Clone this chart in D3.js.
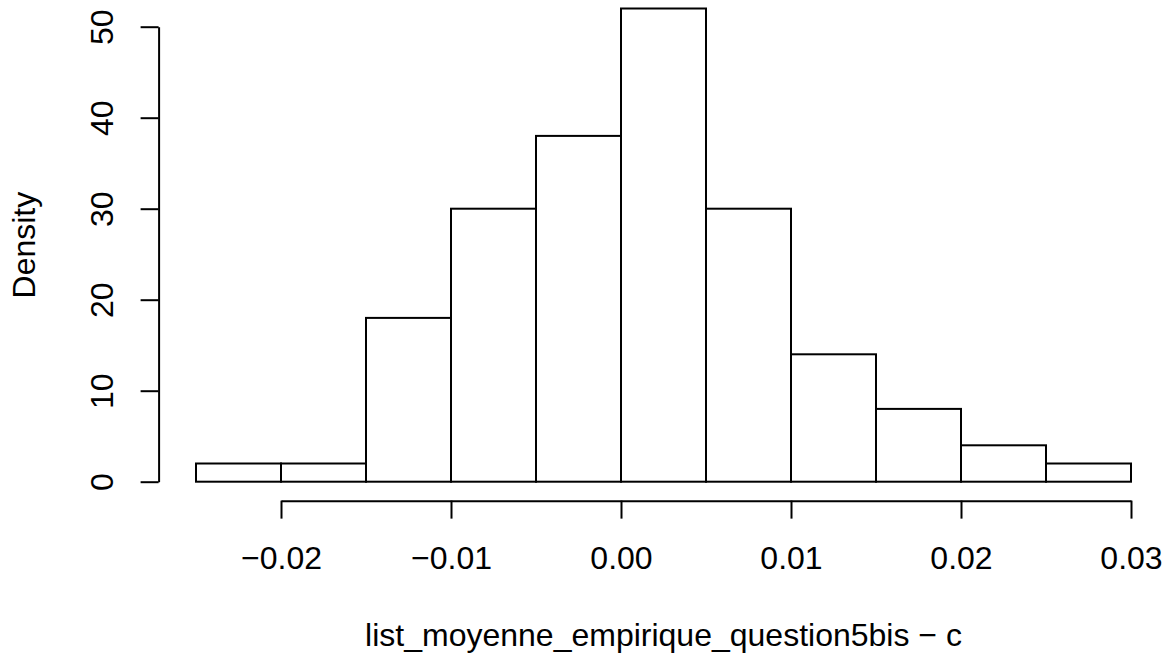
<!DOCTYPE html>
<html>
<head>
<meta charset="utf-8">
<script src="https://cdn.jsdelivr.net/npm/d3@7"></script>
<style>
	body { margin: 0; background: #fff; }
	svg { display: block; }
	text { font-family: "Liberation Sans", Arial, sans-serif; font-size: 32px; fill: #000; }
</style>
</head>
<body>
<div class="container"></div>
<script>
// histogram data: bin edges and density heights
var binStarts = [-0.025, -0.02, -0.015, -0.01, -0.005, 0.00, 0.005, 0.01, 0.015, 0.02, 0.025];
var binWidth = 0.005;
var densities = [2, 2, 18, 30, 38, 52, 30, 14, 8, 4, 2];
var xTicks = [-0.02, -0.01, 0.00, 0.01, 0.02, 0.03];
var yTicks = [0, 10, 20, 30, 40, 50];
var xLabel = 'list_moyenne_empirique_question5bis \u2212 c';
var yLabel = 'Density';

var width = 1166, height = 656;

var svg = d3.select('.container')
	.append('svg')
	.attr('width', width)
	.attr('height', height);

var xScale = d3.scaleLinear()
	.domain([-0.02, 0.03])
	.range([281, 1131]);

var yScale = d3.scaleLinear()
	.domain([0, 50])
	.range([481.7, 26.7]);

// R extends the user range by 4% on each side
var xMin = -0.025, xMax = 0.03, yMax = d3.max(densities);
var xPad = (xMax - xMin) * 0.04, yPad = yMax * 0.04;
var plotLeft = xScale(xMin - xPad), plotRight = xScale(xMax + xPad);
var plotBottom = yScale(-yPad), plotTop = yScale(yMax + yPad);

// bars
svg.append('g')
	.selectAll('rect')
	.data(binStarts)
	.enter().append('rect')
	.attr('x', d => xScale(d))
	.attr('y', (d, i) => yScale(densities[i]))
	.attr('width', d => xScale(d + binWidth) - xScale(d))
	.attr('height', (d, i) => yScale(0) - yScale(densities[i]))
	.attr('fill', 'none')
	.attr('stroke', '#000')
	.attr('stroke-width', 2);

// x axis
var xAxis = d3.axisBottom(xScale)
	.tickValues(xTicks)
	.tickFormat(d3.format('.2f'))
	.tickSize(18)
	.tickSizeOuter(0);

var gx = svg.append('g')
	.attr('transform', 'translate(0,' + plotBottom + ')')
	.call(xAxis);
gx.select('.domain').attr('stroke-width', 2);
gx.selectAll('.tick line').attr('stroke-width', 2);
gx.selectAll('.tick text')
	.attr('y', 68)
	.attr('dy', 0)
	.style('font-size', '32px')
	.style('font-family', '"Liberation Sans", Arial, sans-serif');

// y axis
var yAxis = d3.axisLeft(yScale)
	.tickValues(yTicks)
	.tickFormat(d3.format('d'))
	.tickSize(18)
	.tickSizeOuter(0);

var gy = svg.append('g')
	.attr('transform', 'translate(' + plotLeft + ',0)')
	.call(yAxis);
gy.select('.domain').attr('stroke-width', 2);
gy.selectAll('.tick line').attr('stroke-width', 2);
gy.selectAll('.tick text')
	.attr('x', 0)
	.attr('y', 0)
	.attr('dy', 0)
	.attr('text-anchor', 'middle')
	.attr('transform', 'translate(-45.5,0) rotate(-90)')
	.style('font-size', '32px')
	.style('font-family', '"Liberation Sans", Arial, sans-serif');

// axis titles
svg.append('text')
	.attr('x', (plotLeft + plotRight) / 2)
	.attr('y', 646)
	.attr('text-anchor', 'middle')
	.text(xLabel);

svg.append('text')
	.attr('transform', 'translate(35,' + (plotTop + plotBottom) / 2 + ') rotate(-90)')
	.attr('text-anchor', 'middle')
	.text(yLabel);
</script>
</body>
</html>
